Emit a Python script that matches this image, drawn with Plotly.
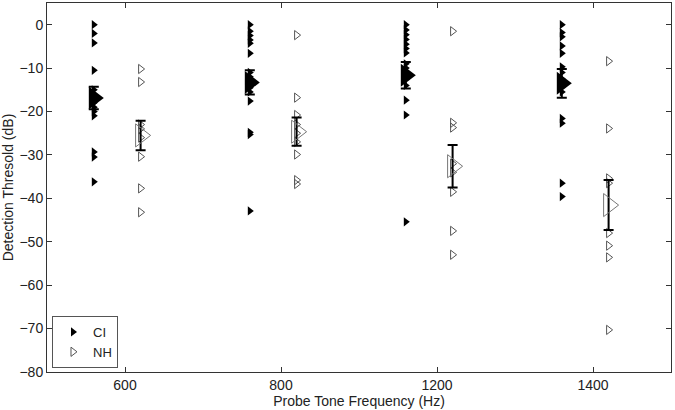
import plotly.graph_objects as go

freq_labels = ["600", "800", "1200", "1400"]

ci_600 = [0, -2, -4.2, -10.5, -15, -16, -17, -18, -19, -20, -21, -29.3, -30.5, -36.2]
ci_800 = [0, -1.5, -2.5, -3.5, -4.3, -6.6, -11, -12, -13, -14.5, -15.5, -17.6, -24.8, -25.3, -42.9]
ci_1200 = [0, -1.2, -2.3, -3.4, -4.5, -5.5, -6.5, -9, -10, -11, -12.5, -14, -17.4, -20.8, -45.4]
ci_1400 = [0, -1.8, -2.8, -4.9, -6.6, -9.7, -11, -12.5, -14, -15.5, -21.6, -22.7, -36.5, -39.6]

nh_600 = [-10.2, -13.2, -23, -24, -26, -30.4, -37.7, -43.2]
nh_800 = [-2.4, -16.8, -20.8, -23, -25, -27, -29.9, -35.8, -36.7]
nh_1200 = [-1.5, -22.6, -23.7, -32, -34, -38.5, -47.5, -53]
nh_1400 = [-8.4, -23.9, -35.4, -36.5, -48, -50.9, -53.6, -70.3]

ci_mean = [-16.9, -13.3, -11.65, -13.5]
ci_err = [2.6, 2.8, 3.05, 3.3]
nh_mean = [-25.5, -24.65, -32.6, -41.55]
nh_err = [3.4, 3.25, 4.9, 5.75]

ci_groups = [ci_600, ci_800, ci_1200, ci_1400]
nh_groups = [nh_600, nh_800, nh_1200, nh_1400]

pos = [1, 2, 3, 4]
ci_off = -0.2
nh_off = 0.1

fig = go.Figure()

ci_x, ci_y, nh_x, nh_y = [], [], [], []
for p, g in zip(pos, ci_groups):
    ci_x += [p + ci_off] * len(g)
    ci_y += g
for p, g in zip(pos, nh_groups):
    nh_x += [p + nh_off] * len(g)
    nh_y += g

fig.add_trace(go.Scatter(x=ci_x, y=ci_y, mode="markers", name="CI",
                         marker=dict(symbol="triangle-right", size=8, color="black",
                                     line=dict(width=0))))
fig.add_trace(go.Scatter(x=nh_x, y=nh_y, mode="markers", name="NH",
                         marker=dict(symbol="triangle-right-open", size=8, color="#555555",
                                     line=dict(width=1))))

# error bars
fig.add_trace(go.Scatter(x=[p + ci_off for p in pos], y=ci_mean, mode="markers",
                         showlegend=False, marker=dict(size=1, color="rgba(0,0,0,0)"),
                         error_y=dict(type="data", array=ci_err, color="black", thickness=2, width=5)))
fig.add_trace(go.Scatter(x=[p + nh_off for p in pos], y=nh_mean, mode="markers",
                         showlegend=False, marker=dict(size=1, color="rgba(0,0,0,0)"),
                         error_y=dict(type="data", array=nh_err, color="black", thickness=2, width=5)))

# means
fig.add_trace(go.Scatter(x=[p + ci_off for p in pos], y=ci_mean, mode="markers",
                         showlegend=False,
                         marker=dict(symbol="triangle-right", size=20, color="black")))
fig.add_trace(go.Scatter(x=[p + nh_off for p in pos], y=nh_mean, mode="markers",
                         showlegend=False,
                         marker=dict(symbol="triangle-right-open", size=20, color="#777777",
                                     line=dict(width=1))))

axis_common = dict(showline=True, linecolor="#333333", linewidth=1, mirror="ticks",
                   ticks="inside", ticklen=5, tickcolor="#333333", showgrid=False,
                   zeroline=False, tickfont=dict(size=14, color="#222222"))

fig.update_layout(
    width=675, height=410,
    margin=dict(l=47, r=4, t=3, b=38),
    paper_bgcolor="white", plot_bgcolor="white",
    font=dict(family="Liberation Sans, Arial, sans-serif", size=14, color="#222222"),
    xaxis=dict(range=[0.5, 4.5], tickvals=pos, ticktext=freq_labels,
               title=dict(text="Probe Tone Frequency (Hz)", standoff=1, font=dict(size=14)),
               automargin=False, **axis_common),
    yaxis=dict(range=[-80, 5], tickvals=list(range(-80, 1, 10)),
               title=dict(text="Detection Thresold (dB)", standoff=4, font=dict(size=14)),
               automargin=False, **axis_common),
    legend=dict(x=0.008, y=0.011, xanchor="left", yanchor="bottom",
                bgcolor="white", bordercolor="#555555", borderwidth=1,
                font=dict(size=13), tracegroupgap=0, itemwidth=30),
    showlegend=True,
)

fig.write_html("out.html", config={"displayModeBar": False},
               post_script="document.body.style.margin='0';document.body.style.overflow='hidden';")
